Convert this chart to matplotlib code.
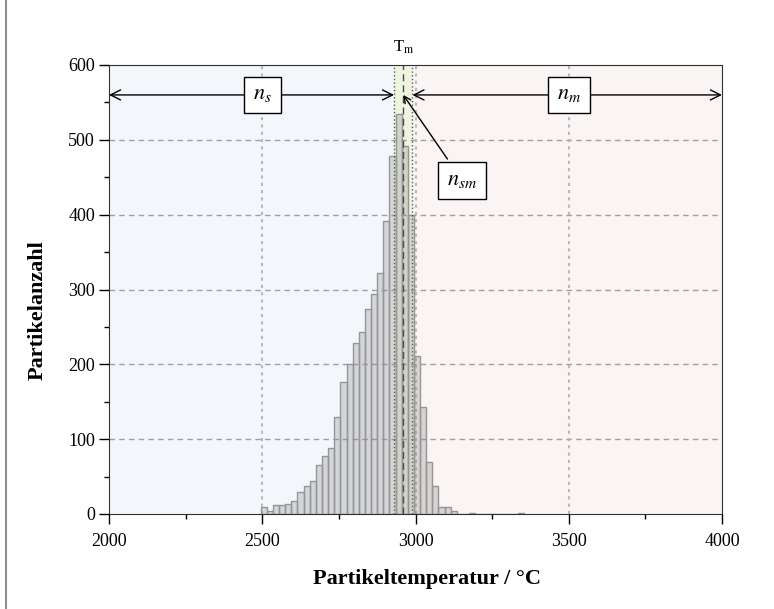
import numpy as np
import matplotlib
matplotlib.use('Agg')
import matplotlib.pyplot as plt
from matplotlib.lines import Line2D
from matplotlib.ticker import MultipleLocator

plt.rcParams['font.family'] = ['Liberation Serif', 'DejaVu Serif']
plt.rcParams['mathtext.fontset'] = 'stix'

# histogram: left bin edges (20 K bins) and counts
bin_left = np.arange(2495, 3355, 20)
counts = [9, 4, 12, 12, 14, 18, 29, 38, 44, 66,
          78, 88, 129, 177, 201, 228, 243, 274, 294, 322,
          391, 478, 534, 492, 400, 211, 143, 69, 38, 10,
          9, 4, 0, 0, 2, 0, 0, 0, 0, 0,
          0, 0, 2]
bin_width = 20

# melting point and band
T_m = 2960
band = [2930, 2990]
arrow_y = 560

labels = ['$n_s$', '$n_m$', '$n_{sm}$']
label_x = [2500, 3500, 3152]
label_y = [560, 560, 446]

fig = plt.figure(figsize=(7.74, 6.09), dpi=100)
ax = fig.add_axes([109/774, 1-514/609, 613/774, 449/609])

ax.set_xlim(2000, 4000)
ax.set_ylim(0, 600)

# background regions
ax.axvspan(2000, band[0], color='#f3f7fb', zorder=0, lw=0)
ax.axvspan(band[0], band[1], color='#eff4e1', zorder=0, lw=0)
ax.axvspan(band[1], 4000, color='#faf4f4', zorder=0, lw=0)

# grid
for y in [100, 200, 300, 400, 500]:
    ax.axhline(y, color='#a0a0a0', lw=1, ls=(0, (4, 3)), zorder=1)
for x in [2500, 3000, 3500]:
    ax.axvline(x, color='#b8b8b8', lw=1.5, ls=(0, (1.5, 2)), zorder=1)

# bars
ax.bar(bin_left[:len(counts)], counts, width=bin_width, align='edge',
       color='#808080', alpha=0.28, edgecolor='none', zorder=2)
ax.bar(bin_left[:len(counts)], counts, width=bin_width, align='edge',
       fill=False, edgecolor='#959595', lw=1, zorder=2)

# band lines
ax.axvline(band[0], color='#5a5a4a', lw=1, ls=':', zorder=3)
ax.axvline(band[1], color='#5a5a4a', lw=1, ls=':', zorder=3)
ax.axvline(T_m, color='#4a4a4a', lw=1, ls=(0, (5, 3)), zorder=3)

# range arrows
ap = dict(arrowstyle='<->', color='black', lw=1, mutation_scale=18,
          shrinkA=0, shrinkB=0)
ax.annotate('', xy=(2000, arrow_y), xytext=(band[0], arrow_y), arrowprops=ap, zorder=4)
ax.annotate('', xy=(4000, arrow_y), xytext=(band[1], arrow_y), arrowprops=ap, zorder=4)

box = dict(boxstyle='square,pad=0.4', fc='white', ec='black', lw=1)
ax.text(label_x[0], label_y[0], labels[0], fontsize=16, ha='center', va='center',
        bbox=box, zorder=5)
ax.text(label_x[1], label_y[1], labels[1], fontsize=16, ha='center', va='center',
        bbox=box, zorder=5)
ax.annotate(labels[2], xy=(T_m, arrow_y), xytext=(label_x[2], label_y[2]),
            fontsize=16, ha='center', va='center', bbox=box, zorder=5,
            arrowprops=dict(arrowstyle='->', color='black', lw=1, shrinkB=0,
                            mutation_scale=12))

ax.text(T_m, 612, r'T$_\mathrm{m}$', fontsize=12, ha='center', va='bottom')

# axes styling
for s in ax.spines.values():
    s.set_color('#303030')
    s.set_zorder(6)
ax.xaxis.set_major_locator(MultipleLocator(500))
ax.xaxis.set_minor_locator(MultipleLocator(250))
ax.yaxis.set_major_locator(MultipleLocator(100))
ax.yaxis.set_minor_locator(MultipleLocator(50))
ax.tick_params(which='major', direction='out', length=7, width=1, labelsize=13,
               top=False, right=False)
ax.tick_params(axis='x', which='major', pad=7)
ax.tick_params(axis='y', which='major', pad=3)
ax.tick_params(which='minor', direction='out', length=3.5, width=1,
               top=False, right=False)

ax.set_xlabel('Partikeltemperatur / °C', fontsize=16, fontweight='bold')
ax.set_ylabel('Partikelanzahl', fontsize=16, fontweight='bold')
ax.xaxis.set_label_coords(0.518, -0.122)
ax.yaxis.set_label_coords(-0.1, 0.455)

fig.add_artist(Line2D([6/774, 6/774], [0, 1], color='#909090', lw=1.5))

fig.savefig('out.png', dpi=100)
